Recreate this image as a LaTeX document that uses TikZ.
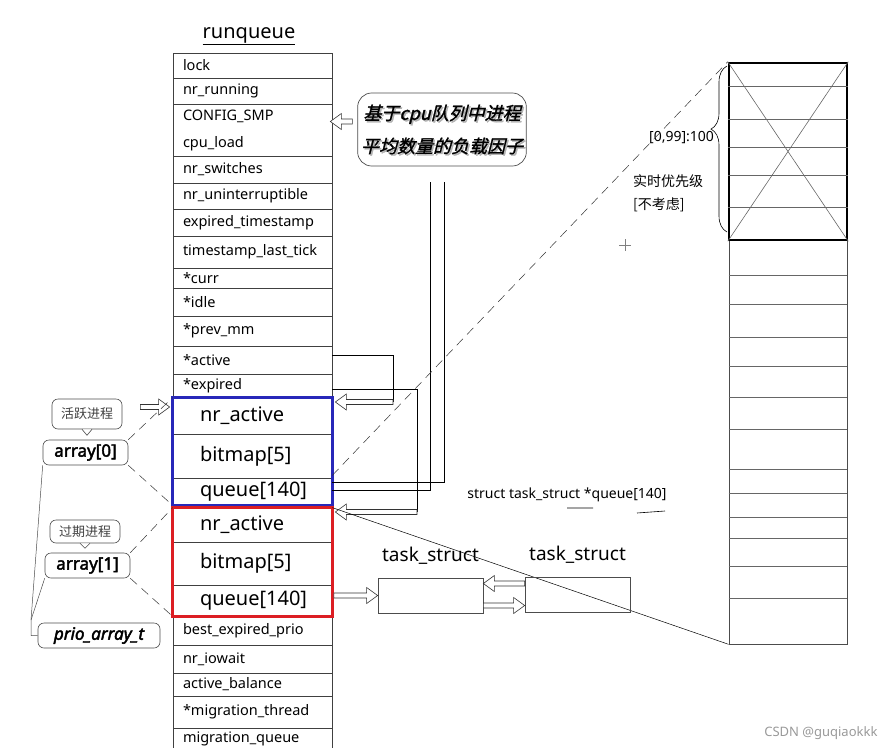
\documentclass[tikz,border=0pt]{standalone}
\usepackage{fontspec}
\setmainfont{Noto Sans}
\newfontfamily\heavy[FakeBold=2.5]{Noto Sans}
\newfontfamily\cjk{Noto Sans CJK SC}
\newfontfamily\cjkbi[FakeSlant=0.25,FakeBold=1.5]{Noto Sans CJK SC}
\usepackage{tikz}
\usetikzlibrary{arrows.meta, positioning, calc, decorations.pathreplacing}
\definecolor{actblue}{RGB}{40, 40, 185}
\definecolor{expred}{RGB}{220, 30, 35}

\begin{document}
\begin{tikzpicture}[x=1pt, y=-1pt,
  rqrow/.style={draw=black!75, line width=0.7pt, minimum width=159pt, text width=139pt,
    inner xsep=10pt, inner ysep=0pt, align=left, font=\fontsize{14.5}{27}\selectfont},
  arrrow/.style={rqrow, text width=105pt, inner xsep=27pt, font=\fontsize{20}{22}\selectfont},
  hollow/.style={draw=black!80, fill=white, line width=0.6pt, to path={
    let \p1=(\tikztostart), \p2=(\tikztotarget), \n1={sign(\x2-\x1)} in
    (\x1,\y1+2.5pt) -- (\x2-\n1*11pt,\y1+2.5pt) -- (\x2-\n1*11pt,\y1+8pt) -- (\x2,\y1)
    -- (\x2-\n1*11pt,\y1-8pt) -- (\x2-\n1*11pt,\y1-2.5pt) -- (\x1,\y1-2.5pt) -- cycle}},
  tag/.style={draw=black!70, line width=0.6pt, rounded corners=6pt, minimum height=25pt, inner xsep=4pt},
  guide/.style={dash pattern=on 9pt off 6pt, line width=0.5pt, black!80},
  cell/.style={black!60, line width=0.6pt}]
  \path[use as bounding box, clip] (0,0) rectangle (886,747);

  \node[font=\fontsize{20}{24}\selectfont] (title) at (249,36) {\underline{runqueue}};
  \foreach \n/\t/\y/\h in {lock/lock/65.5/25, nrrun/nr\_running/91/26,
      nrsw/nr\_switches/169.5/27, nrunint/nr\_uninterruptible/196/26,
      expts/expired\_timestamp/222.5/27, tslt/timestamp\_last\_tick/252/32,
      curr/*curr/278/20, idle/*idle/302/28, prevmm/*prev\_mm/331/30,
      active/*active/360/28, expired/*expired/386/24,
      best/best\_expired\_prio/630.5/29, iowait/nr\_iowait/659/28,
      balance/active\_balance/684.5/23, mthread/*migration\_thread/712/32,
      mqueue/migration\_queue/739/22} {
    \node[rqrow, minimum height=\h pt] (\n) at (252.5,\y) {\t};
  }
  \node[rqrow, minimum height=52pt] (cfg) at (252.5,130) {CONFIG\_SMP\\cpu\_load};

  \foreach \n/\t/\y/\h in {a0n/nr\_active/416/36, a0b/bitmap[5]/456/44, a0q/queue[140]/491.5/27,
      a1n/nr\_active/525/34, a1b/bitmap[5]/563.5/43, a1q/queue[140]/600.5/31} {
    \node[arrrow, minimum height=\h pt] (\n) at (252.5,\y) {\t};
  }
  \draw[actblue, line width=3pt] (a0n.north west) rectangle (a0q.south east);
  \draw[expred, line width=3pt] (a1n.north west) rectangle (a1q.south east);

  \node[font=\cjkbi\fontsize{18}{33}\selectfont, align=center, text=black!30]
    (loadshade) at (443.5,131) {基于cpu队列中进程\\平均数量的负载因子};
  \node[draw=black!70, line width=0.7pt, rounded corners=14pt, minimum width=166pt, minimum height=73pt,
    font=\cjkbi\fontsize{18}{33}\selectfont, align=center] (load) at (442,129.5)
    {基于cpu队列中进程\\平均数量的负载因子};
  \path[hollow] ([shift={(-5pt,8pt)}]load.west) to ([shift={(-5pt,8pt)}]load.west -| {$(cfg.east)+(3,0)$});

  \coordinate (actturn) at (393,402);
  \coordinate (expturn) at (417,512);
  \coordinate (qup1) at (430,182);
  \coordinate (qup2) at (444,182);
  \draw[line width=0.6pt] ([yshift=5pt]active.east) -| (actturn);
  \path[hollow] (actturn) to ([xshift=3pt]actturn -| a0n.east);
  \draw[line width=0.6pt] ([yshift=-3pt]expired.east) -| (expturn);
  \path[hollow] (expturn) to ([xshift=3pt]expturn -| a1n.east);
  \draw[line width=0.6pt] ([yshift=1.5pt]a0q.east) -| (qup1);
  \draw[line width=0.6pt] ([yshift=9.5pt]a0q.east) -| (qup2);

  \node[draw=black!70, line width=0.7pt, minimum width=118pt, minimum height=404pt, inner sep=0pt]
    (col) at (788,442) {};
  \foreach \y in {275,304,337,366,397,429,469,493,517,538,566,598} {
    \draw[cell] (col.west |- 0,\y) -- (col.east |- 0,\y);
  }
  \node[draw, line width=2.5pt, minimum width=118pt, minimum height=177pt, inner sep=0pt] (rt) at (788,151.5) {};
  \foreach \y in {86,119,147,175,207} {
    \draw[cell] (rt.west |- 0,\y) -- (rt.east |- 0,\y);
  }
  \draw[cell] (rt.north west) -- (rt.south east) (rt.north east) -- (rt.south west);
  \draw[decorate, decoration={brace, amplitude=16pt, aspect=0.62}, line width=0.6pt] (727,232) -- (727,66);
  \node[font=\fontsize{14}{16}\selectfont, anchor=west, inner sep=0pt] (prange) at (649,138) {[0,99]:100};
  \node[font=\cjk\fontsize{14}{16}\selectfont, anchor=west, inner sep=0pt] (rtprio) at (633,181) {实时优先级};
  \node[font=\cjk\fontsize{14}{16}\selectfont, anchor=west, inner sep=0pt] (skip) at (633,205) {[不考虑]};
  \draw[black!50, line width=0.5pt] (619,245) -- (631,245) (625,239) -- (625,251);

  \draw[guide] ([yshift=3pt]a0b.south east) -- (rt.north west);
  \draw[line width=0.5pt] (a1n.north east) -- (col.south west);

  \node[font=\fontsize{14}{16}\selectfont] (qdecl) at (567,495) {struct task\_struct *queue[140]};
  \draw[line width=0.6pt] (567,508) -- (593,508) (637,513) -- (665,511);

  \node[draw=black!70, line width=0.7pt, minimum width=105pt, minimum height=35pt] (t1) at (430.5,595.5) {};
  \node[draw=black!70, line width=0.7pt, minimum width=105pt, minimum height=35pt] (t2) at (577.5,594.5) {};
  \node[font=\fontsize{19}{22}\selectfont, above=10pt of t1] (t1lbl) {task\_struct};
  \node[font=\fontsize{19}{22}\selectfont, above=10pt of t2] (t2lbl) {task\_struct};
  \path[hollow] ([xshift=1.5pt]a1q.east |- t1.west) to (t1.west);
  \path[hollow] ([yshift=11pt]t2.west) to ([yshift=11pt]t2.west -| t1.east);
  \path[hollow] ([yshift=-10pt]t1.east) to ([yshift=-10pt]t1.east -| t2.west);

  \node[tag, font=\cjk\fontsize{13}{15}\selectfont, text=black!75, minimum width=70pt, minimum height=30pt]
    (tag0) at (87,414) {活跃进程};
  \node[tag, font=\heavy\fontsize{17}{20}\selectfont, minimum width=85pt] (arr0) at (85.5,452.5) {array[0]};
  \node[tag, font=\cjk\fontsize{13}{15}\selectfont, text=black!75, minimum width=70pt, minimum height=23pt]
    (tag1) at (85,531.5) {过期进程};
  \node[tag, font=\heavy\fontsize{17}{20}\selectfont, minimum width=85pt] (arr1) at (87.5,565.5) {array[1]};
  \node[tag, font=\heavy\itshape\fontsize{17}{20}\selectfont, minimum width=122pt] (prio) at (99,635.5) {prio\_array\_t};
  \draw[black!70, line width=0.6pt, fill=white] ([xshift=-5pt]tag0.south) -- ++(5,6) -- ++(5,-6);
  \draw[black!70, line width=0.6pt, fill=white] ([xshift=-5pt]tag1.south) -- ++(5,5) -- ++(5,-5);
  \path[hollow] ([shift={(18pt,7pt)}]tag0.east) to ([shift={(-3pt,7pt)}]tag0.east -| a0n.west);

  \draw[guide] (arr0.north east) -- (a0n.north west);
  \draw[guide] (arr0.south east) -- (a0q.south west);
  \draw[guide] (arr1.north east) -- (a1n.north west);
  \draw[guide] (arr1.south east) -- (a1q.south west);
  \coordinate (pjoin) at (31,620);
  \draw[black!70, line width=0.5pt] (arr0.south west) -- (pjoin) |- (prio.west);
  \draw[black!70, line width=0.5pt] (arr1.south west) -- (pjoin);

  \node[font=\fontsize{13}{15}\selectfont, text=black!40, anchor=east] (mark) at (881,733) {CSDN @guqiaokkk};
\end{tikzpicture}
\end{document}
